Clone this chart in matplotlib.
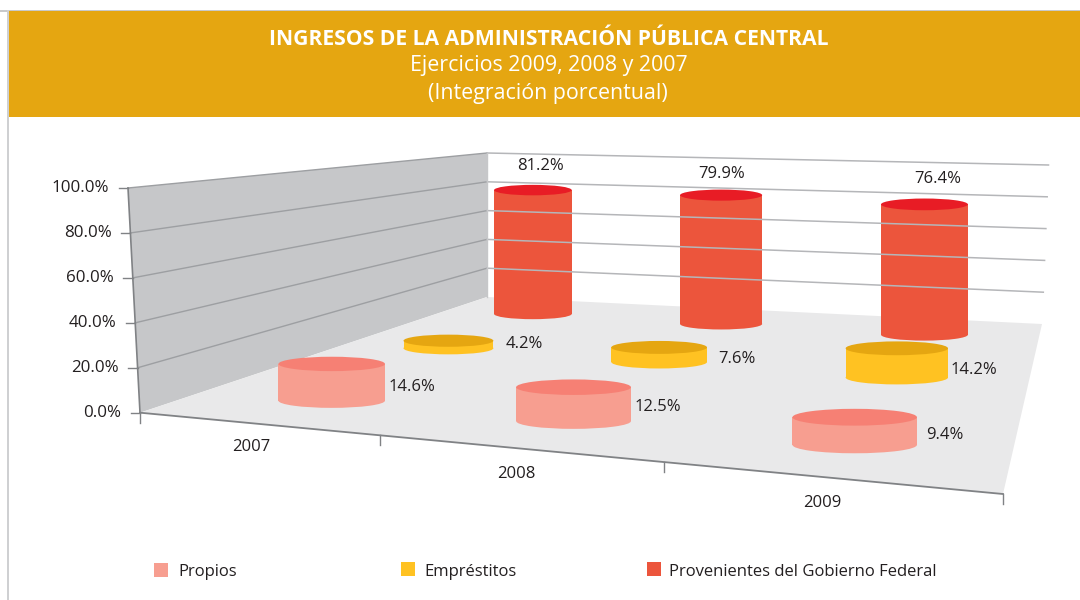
import matplotlib
matplotlib.use("Agg")
import matplotlib.pyplot as plt
from matplotlib.patches import Ellipse, Polygon, Rectangle

plt.rcParams["font.family"] = ["Open Sans", "DejaVu Sans"]

years = ["2007", "2008", "2009"]
series = ["Propios", "Empréstitos", "Provenientes del Gobierno Federal"]
propios = [14.6, 12.5, 9.4]
emprestitos = [4.2, 7.6, 14.2]
federal = [81.2, 79.9, 76.4]
y_ticks = [0, 20, 40, 60, 80, 100]
y_labels = ["0.0%", "20.0%", "40.0%", "60.0%", "80.0%", "100.0%"]

side_colors = ["#f79e90", "#ffc222", "#ec553c"]
top_colors = ["#f68074", "#e5a611", "#e81c25"]
text_color = "#231f20"
band_color = "#e5a611"

# floor corners in pixels, front-left, front-right, back-right, back-left
FL = (140, 412.7)
FR = (1003, 494)
BR = (1042, 324)
BL = (487, 297)
# pixels per percent on the wall edges
scale_front = 2.247
scale_back_l = 1.44
scale_back_r = 1.59


def homography():
    dx1, dx2, sx = FR[0] - BR[0], BL[0] - BR[0], FL[0] - FR[0] + BR[0] - BL[0]
    dy1, dy2, sy = FR[1] - BR[1], BL[1] - BR[1], FL[1] - FR[1] + BR[1] - BL[1]
    den = dx1 * dy2 - dx2 * dy1
    g = (sx * dy2 - dx2 * sy) / den
    h = (dx1 * sy - sx * dy1) / den
    return g, h


G, H = homography()


def project(cat, ser):
    # cat and ser run 0..3 across the floor
    s, t = cat / 3, ser / 3
    w = G * s + H * t + 1
    x = FL[0] + (FR[0] - FL[0] + G * FR[0]) * s + (BL[0] - FL[0] + H * BL[0]) * t
    y = FL[1] + (FR[1] - FL[1] + G * FR[1]) * s + (BL[1] - FL[1] + H * BL[1]) * t
    return x / w, y / w, w


fig = plt.figure(figsize=(10.8, 6), dpi=100)
ax = fig.add_axes([0, 0, 1, 1])
ax.set_xlim(0, 1080)
ax.set_ylim(600, 0)
ax.axis("off")

# frame and header
ax.add_patch(Rectangle((0, 9.5), 1080, 2, color="#c8c9cb", lw=0))
ax.add_patch(Rectangle((7, 10), 2, 590, color="#cfd0d2", lw=0))
ax.add_patch(Rectangle((8.5, 11), 1072, 106, color=band_color, lw=0))
ax.text(549, 39.5, "INGRESOS DE LA ADMINISTRACIÓN PÚBLICA CENTRAL", color="white",
        fontsize=15.25, fontweight="bold", ha="center", va="center")
ax.text(548.5, 65, "Ejercicios 2009, 2008 y 2007", color="white", fontsize=15.4,
        ha="center", va="center")
ax.text(548, 93.5, "(Integración porcentual)", color="white", fontsize=15.4,
        ha="center", va="center")

# left wall and floor
top_left = (128, FL[1] - 100 * scale_front)
top_back = (BL[0], BL[1] - 100 * scale_back_l)
ax.add_patch(Polygon([FL, top_left, top_back, BL], color="#c6c7c9", lw=0))
ax.add_patch(Polygon([FL, FR, BR, BL], color="#e9e9ea", lw=0))

# gridlines on both walls
for v, lab in zip(y_ticks, y_labels):
    x_wall = FL[0] + (top_left[0] - FL[0]) * v / 100
    y_wall = FL[1] - v * scale_front
    y_back = BL[1] - v * scale_back_l
    x_right = BR[0] + 6.5 * v / 100
    y_right = BR[1] - v * scale_back_r
    if v > 0:
        ax.plot([x_wall, BL[0]], [y_wall, y_back], color="#9d9fa2", lw=1)
        ax.plot([BL[0], x_right], [y_back, y_right], color="#b5b6b9", lw=1.1)
    ax.plot([x_wall - 9.5, x_wall], [y_wall, y_wall], color="#808285", lw=1)
    ax.text(x_wall - 19, y_wall + 0.5, lab, color=text_color, fontsize=12.2,
            ha="right", va="center")

ax.plot([BL[0], BL[0]], [BL[1], top_back[1]], color="#c6c7c9", lw=1)
ax.plot([FL[0], top_left[0]], [FL[1], top_left[1]], color="#808285", lw=1.2)
ax.plot([FL[0], FR[0]], [FL[1], FR[1]], color="#808285", lw=1.3)
for i in range(4):
    tx, ty, _ = project(i, 0)
    ax.plot([tx, tx], [ty, ty + 10], color="#808285", lw=1)

# cylinders, back row first
values = [propios, emprestitos, federal]
row_pos = [0.4, 1.5, 2.52]
col_pos = [[0.565, 1.545, 2.52], [0.505, 1.51, 2.505], [0.49, 1.51, 2.495]]
radius_k = [55, 56, 56]
height_k = [2.6, 2.25, 2.2]
ellipse_ratio = 0.135
# label offsets per series and year
label_dx = [[4, 4, 9], [12, 11, 3], [8, 1, 13]]
label_dy = [[5, 3, 4], [-0.5, 4, 7.5], [-24, -21, -25]]
for j in [2, 1, 0]:
    for i in range(3):
        cx, cy, w = project(col_pos[j][i], row_pos[j])
        r = radius_k[j] / w
        hh = r * ellipse_ratio
        top = cy - values[j][i] * height_k[j] / w
        ax.add_patch(Ellipse((cx, cy), 2 * r, 2 * hh, color=side_colors[j], lw=0))
        ax.add_patch(Rectangle((cx - r, top), 2 * r, cy - top, color=side_colors[j], lw=0))
        ax.add_patch(Ellipse((cx, top), 2 * r, 2 * hh, color=top_colors[j], lw=0))
        txt = "%.1f%%" % values[j][i]
        if j == 2:
            ax.text(cx + label_dx[j][i], top + label_dy[j][i], txt, color=text_color,
                    fontsize=12, ha="center", va="center")
        else:
            ax.text(cx + r + label_dx[j][i], (top + cy) / 2 + label_dy[j][i], txt,
                    color=text_color, fontsize=12, ha="left", va="center")

# year labels
year_dx = [-4, 1, -3]
year_dy = [23.5, 25.5, 25.5]
for i, yr in enumerate(years):
    tx, ty, _ = project(i + 0.5, 0)
    ax.text(tx + year_dx[i], ty + year_dy[i], yr, color=text_color, fontsize=12,
            ha="center", va="center")

# legend
swatch_x = [154, 401, 647]
swatch_y = [563, 562, 562]
text_x = [178.5, 424.5, 669]
for k, name in enumerate(series):
    ax.add_patch(Rectangle((swatch_x[k], swatch_y[k]), 14, 14, color=side_colors[k], lw=0))
    ax.text(text_x[k], 572.5, name, color=text_color, fontsize=11.95, ha="left", va="center")

fig.savefig("out.png", dpi=100)
